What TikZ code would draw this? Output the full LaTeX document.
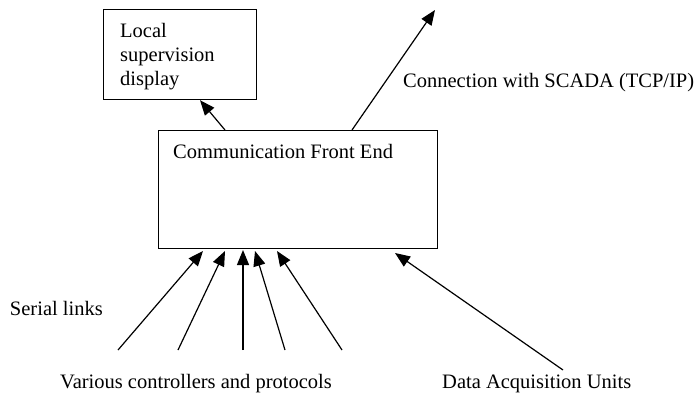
\documentclass[tikz,border=0pt]{standalone}
\usepackage{fontspec}
\setmainfont{Liberation Serif}
\usetikzlibrary{arrows.meta,calc}
\tikzset{
  box/.style={draw,line width=1.2pt,rectangle,inner sep=0pt,anchor=north west},
  txt/.style={anchor=base west,inner sep=0pt,font=\fontsize{20.5}{24}\selectfont},
  txtr/.style={txt,anchor=base east},
  link/.style={line width=1.2pt,-{Triangle[length=15pt,width=12pt]}}
}
\begin{document}
\begin{tikzpicture}[x=1pt,y=-1pt]
\useasboundingbox (0,0) rectangle (699,394);
% boxes
\node[box,minimum width=153pt,minimum height=90pt] (lsd) at (103,9) {};
\node[box,minimum width=279pt,minimum height=118pt] (cfe) at (158,130) {};
% box texts
\node[txt] (lsd1) at (120,37) {Local};
\node[txt] (lsd2) at (120,61) {supervision};
\node[txt] (lsd3) at (120,85) {display};
\node[txt] (cfet) at (173,158) {Communication Front End};
% free labels
\node[txt] (scada) at (403,87) {Connection with SCADA (TCP/IP)};
\node[txtr] (serial) at (103,315) {Serial links};
\node[txtr] (ctrl) at (332,388) {Various controllers and protocols};
\node[txt] (dau) at (442,388) {Data Acquisition Units};
% connector ends
\coordinate (up1) at ($(cfe.north west)+(67,0)$);
\coordinate (dn1) at ($(lsd.south west)+(97,0)$);
\coordinate (up2) at ($(cfe.north west)+(194,0)$);
\coordinate (net) at (435,10);
\coordinate (t1) at (203,251);
\coordinate (t2) at (225,251);
\coordinate (t3) at (243,250);
\coordinate (t4) at (255,251);
\coordinate (t5) at (277,251);
\coordinate (t6) at (395,253);
\coordinate (s1) at (118,350);
\coordinate (s2) at (178,350);
\coordinate (s3) at (243,350);
\coordinate (s4) at (285,350);
\coordinate (s5) at (342,350);
\coordinate (s6) at (563,370);
% connectors
\draw[link] (up1) -- (dn1);
\draw[link] (up2) -- (net);
\foreach \i in {1,...,6} \draw[link] (s\i) -- (t\i);
\end{tikzpicture}
\end{document}
